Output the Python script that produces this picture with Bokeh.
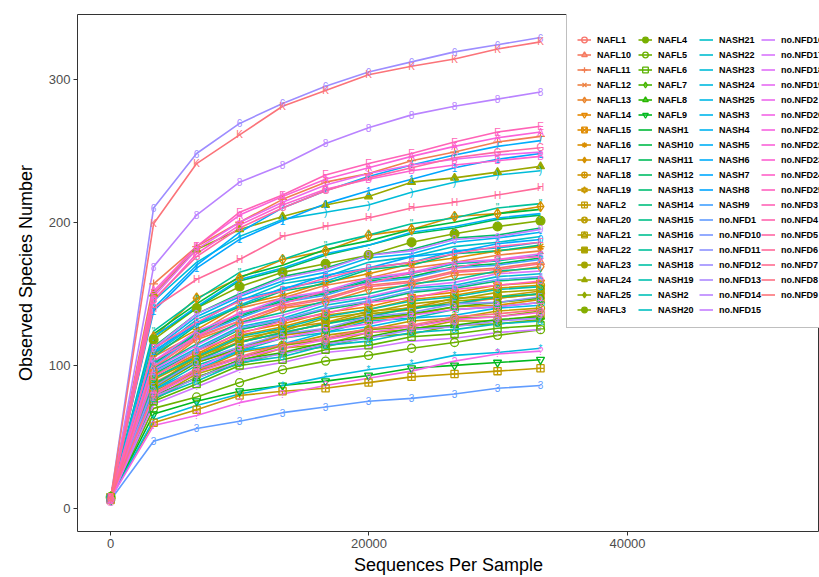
import math
from bokeh.plotting import figure
from bokeh.models import ColumnDataSource, Legend, LegendItem, Range1d, FixedTicker
from bokeh.core.properties import value
from bokeh.embed import file_html
from bokeh.resources import INLINE

# ---------------- data ----------------
depths = [10, 3336, 6662, 9988, 13314, 16640, 19966, 23292, 26618, 29944, 33270]
x_ticks = [0, 20000, 40000]
y_ticks = [0, 100, 200, 300]

nafl = {
    "NAFL1":  [7, 88, 103, 117, 122, 130, 134, 141, 143, 147, 150],
    "NAFL10": [6, 98, 120, 131, 142, 147, 156, 159, 166, 168, 172],
    "NAFL11": [8, 157, 183, 200, 216, 228, 234, 243, 249, 256, 260],
    "NAFL12": [7, 106, 122, 140, 147, 156, 161, 168, 172, 177, 180],
    "NAFL13": [6, 96, 118, 129, 140, 144, 153, 156, 163, 165, 169],
    "NAFL14": [8, 93, 108, 123, 129, 137, 141, 148, 151, 156, 158],
    "NAFL15": [7, 84, 102, 111, 121, 125, 132, 135, 141, 142, 146],
    "NAFL16": [7, 108, 125, 142, 149, 158, 164, 171, 175, 180, 183],
    "NAFL17": [8, 120, 147, 161, 174, 180, 191, 195, 204, 206, 211],
    "NAFL18": [6, 91, 107, 121, 127, 135, 139, 146, 149, 154, 156],
    "NAFL19": [7, 86, 106, 116, 126, 130, 138, 140, 147, 148, 152],
    "NAFL2":  [8, 60, 69, 79, 82, 84, 88, 92, 94, 96, 98],
    "NAFL20": [7, 82, 96, 109, 114, 121, 125, 131, 133, 138, 140],
    "NAFL21": [6, 77, 94, 103, 112, 115, 123, 125, 131, 131, 135],
    "NAFL22": [8, 90, 105, 119, 124, 133, 137, 143, 146, 151, 153],
    "NAFL23": [7, 86, 104, 116, 123, 129, 136, 139, 145, 147, 150],
    "NAFL24": [8, 150, 181, 195, 204, 212, 218, 228, 231, 235, 239],
    "NAFL25": [7, 79, 96, 105, 114, 118, 125, 127, 133, 134, 138],
    "NAFL3":  [8, 118, 140, 155, 165, 171, 177, 186, 192, 197, 201],
    "NAFL4":  [6, 76, 92, 101, 109, 113, 120, 122, 128, 129, 132],
    "NAFL5":  [7, 70, 78, 88, 97, 103, 107, 112, 116, 121, 125],
    "NAFL6":  [7, 75, 87, 100, 104, 111, 114, 120, 122, 126, 128],
    "NAFL7":  [8, 85, 102, 112, 122, 125, 133, 136, 141, 144, 147],
    "NAFL8":  [7, 79, 91, 104, 109, 116, 120, 126, 128, 132, 134],
    "NAFL9":  [7, 66, 75, 82, 86, 89, 93, 98, 100, 102, 104],
}

nash = {
    "NASH1":  [7, 122, 143, 162, 170, 181, 187, 195, 200, 206, 209],
    "NASH10": [8, 101, 122, 134, 145, 150, 159, 162, 169, 171, 175],
    "NASH11": [6, 120, 140, 159, 167, 177, 184, 192, 196, 202, 205],
    "NASH12": [7, 113, 136, 150, 162, 168, 177, 181, 189, 191, 196],
    "NASH13": [8, 94, 110, 125, 131, 139, 144, 151, 154, 159, 161],
    "NASH14": [7, 106, 128, 141, 152, 157, 167, 170, 178, 180, 184],
    "NASH15": [6, 87, 103, 116, 123, 129, 134, 140, 143, 148, 150],
    "NASH16": [7, 98, 115, 130, 137, 145, 150, 157, 160, 166, 168],
    "NASH17": [8, 124, 146, 165, 174, 184, 191, 199, 203, 210, 213],
    "NASH18": [7, 102, 123, 135, 146, 151, 160, 164, 171, 173, 177],
    "NASH19": [6, 91, 106, 120, 126, 134, 139, 145, 148, 153, 155],
    "NASH2":  [7, 83, 100, 110, 119, 123, 131, 133, 139, 141, 144],
    "NASH20": [8, 77, 89, 102, 106, 114, 117, 123, 125, 129, 131],
    "NASH21": [7, 109, 132, 145, 157, 162, 172, 176, 183, 186, 190],
    "NASH22": [6, 96, 112, 127, 133, 142, 147, 154, 156, 162, 164],
    "NASH23": [8, 145, 172, 190, 202, 207, 212, 221, 228, 233, 236],
    "NASH24": [7, 62, 72, 80, 86, 92, 97, 101, 107, 109, 112],
    "NASH25": [7, 108, 129, 142, 154, 159, 168, 172, 180, 182, 186],
    "NASH3":  [6, 83, 97, 110, 115, 123, 127, 133, 135, 140, 142],
    "NASH4":  [8, 111, 134, 148, 159, 165, 175, 178, 186, 189, 193],
    "NASH5":  [7, 120, 141, 160, 168, 178, 184, 193, 197, 203, 206],
    "NASH6":  [8, 140, 170, 193, 210, 222, 232, 240, 247, 253, 257],
    "NASH7":  [7, 110, 129, 146, 153, 163, 168, 176, 179, 185, 188],
    "NASH8":  [8, 138, 168, 188, 201, 213, 222, 230, 238, 244, 248],
    "NASH9":  [6, 100, 121, 133, 144, 149, 158, 161, 168, 170, 174],
}

nfd = {
    "no.NFD1":  [6, 47, 56, 61, 67, 71, 75, 77, 80, 84, 86],
    "no.NFD10": [7, 95, 111, 126, 132, 140, 145, 152, 155, 160, 162],
    "no.NFD11": [8, 85, 103, 113, 122, 126, 134, 137, 143, 144, 148],
    "no.NFD12": [7, 210, 248, 269, 283, 295, 305, 312, 319, 324, 329],
    "no.NFD13": [6, 78, 91, 103, 108, 115, 119, 125, 127, 131, 133],
    "no.NFD14": [7, 169, 205, 228, 240, 255, 266, 275, 281, 286, 291],
    "no.NFD15": [8, 112, 136, 149, 161, 167, 177, 180, 188, 190, 195],
    "no.NFD16": [7, 73, 85, 97, 102, 109, 112, 117, 119, 123, 125],
    "no.NFD17": [6, 97, 114, 129, 135, 144, 148, 155, 158, 164, 166],
    "no.NFD18": [8, 103, 124, 136, 147, 152, 161, 165, 172, 174, 178],
    "no.NFD19": [7, 80, 98, 112, 119, 125, 129, 135, 139, 141, 144],
    "no.NFD2":  [8, 148, 181, 200, 214, 226, 234, 240, 244, 247, 249],
    "no.NFD20": [7, 58, 65, 74, 80, 86, 91, 96, 103, 108, 110],
    "no.NFD21": [6, 79, 95, 105, 112, 118, 123, 127, 132, 134, 137],
    "no.NFD22": [8, 152, 183, 205, 218, 230, 238, 246, 253, 259, 263],
    "no.NFD23": [8, 145, 178, 198, 212, 223, 230, 236, 240, 243, 246],
    "no.NFD24": [7, 103, 120, 137, 143, 152, 157, 165, 168, 174, 176],
    "no.NFD25": [6, 92, 110, 122, 131, 136, 144, 147, 153, 156, 159],
    "no.NFD3":  [8, 150, 183, 207, 219, 233, 241, 248, 256, 263, 267],
    "no.NFD4":  [7, 112, 130, 145, 152, 161, 168, 172, 178, 183, 186],
    "no.NFD5":  [8, 146, 176, 196, 210, 222, 231, 238, 245, 249, 252],
    "no.NFD6":  [7, 140, 160, 174, 190, 197, 203, 210, 214, 219, 224],
    "no.NFD7":  [6, 99, 119, 131, 141, 146, 155, 158, 165, 167, 171],
    "no.NFD8":  [8, 80, 97, 106, 115, 119, 126, 128, 134, 136, 139],
    "no.NFD9":  [7, 199, 241, 261, 281, 292, 303, 309, 314, 321, 326],
}

# ---------------- styling helpers ----------------
def hcl_hex(h, c=100.0, l=65.0):
    Xn, Yn, Zn = 95.047, 100.0, 108.883
    hr = math.radians(h)
    U, V = c * math.cos(hr), c * math.sin(hr)
    Y = Yn * ((l + 16.0) / 116.0) ** 3 if l > 8 else Yn * l / 903.3
    t = Xn + Yn + Zn
    xn, yn = Xn / t, Yn / t
    uN = 2 * xn / (6 * yn - xn + 1.5)
    vN = 4.5 * yn / (6 * yn - xn + 1.5)
    u = U / (13 * l) + uN
    v = V / (13 * l) + vN
    X = 9.0 * Y * u / (4 * v)
    Z = -X / 3 - 5 * Y + 3 * Y / v
    r = (3.240479 * X - 1.537150 * Y - 0.498535 * Z) / Yn
    g = (-0.969256 * X + 1.875992 * Y + 0.041556 * Z) / Yn
    b = (0.055648 * X - 0.204043 * Y + 1.057311 * Z) / Yn

    def gam(q):
        q = 12.92 * q if q <= 0.0031308 else 1.055 * q ** (1 / 2.4) - 0.055
        return int(round(min(1, max(0, q)) * 255))
    return "#%02X%02X%02X" % (gam(r), gam(g), gam(b))

# R pch 1..25 approximations: list of (marker, filled, size factor)
pch = {
    1: [("circle", False, 1.0)], 2: [("triangle", False, 1.0)], 3: [("cross", False, 1.1)],
    4: [("x", False, 1.0)], 5: [("diamond", False, 1.3)], 6: [("inverted_triangle", False, 1.0)],
    7: [("square_x", False, 0.9)], 8: [("asterisk", False, 1.0)], 9: [("diamond_cross", False, 1.3)],
    10: [("circle_cross", False, 1.0)],
    11: [("triangle", False, 1.0), ("inverted_triangle", False, 1.0)],
    12: [("square_cross", False, 0.9)], 13: [("circle_x", False, 1.0)],
    14: [("square", False, 0.9), ("triangle", False, 0.8)],
    15: [("square", True, 0.9)], 16: [("circle", True, 0.8)], 17: [("triangle", True, 1.0)],
    18: [("diamond", True, 1.0)], 19: [("circle", True, 1.1)], 20: [("circle", True, 0.6)],
    21: [("circle", False, 1.0)], 22: [("square", False, 0.9)], 23: [("diamond", False, 1.3)],
    24: [("triangle", False, 1.0)], 25: [("inverted_triangle", False, 1.0)],
}

series = list(nafl.items()) + list(nash.items()) + list(nfd.items())
n = len(series)
step = (360.0 - 360.0 / n) / (n - 1)
colors = [hcl_hex((15 + i * step) % 360) for i in range(n)]

# ---------------- figure ----------------
p = figure(width=819, height=577, output_backend="svg", toolbar_location=None,
           x_range=Range1d(-2553, 54855), y_range=Range1d(-16.0, 345.1),
           min_border_left=77, min_border_right=0, min_border_top=14, min_border_bottom=43)
p.xgrid.visible = False
p.ygrid.visible = False
p.outline_line_color = "#333333"
p.outline_line_width = 1
p.background_fill_color = "white"
p.border_fill_color = "white"

p.xaxis.ticker = FixedTicker(ticks=x_ticks)
p.yaxis.ticker = FixedTicker(ticks=y_ticks)
p.xaxis.axis_label = "Sequences Per Sample"
p.yaxis.axis_label = "Observed Species Number"
for ax in (p.xaxis, p.yaxis):
    ax.axis_line_color = None
    ax.major_tick_line_color = "#333333"
    ax.major_tick_in = 0
    ax.major_tick_out = 4
    ax.minor_tick_line_color = None
    ax.major_label_text_font = "Liberation Sans"
    ax.major_label_text_font_size = "13px"
    ax.major_label_text_color = "#4D4D4D"
    ax.major_label_standoff = 3
    ax.axis_label_text_font = "Liberation Sans"
    ax.axis_label_text_font_size = "18px"
    ax.axis_label_text_font_style = "normal"
    ax.axis_label_text_color = "#000000"
    ax.axis_label_standoff = 4
p.yaxis.axis_label_standoff = 10
p.xaxis.formatter.use_scientific = False

lines = []
for i, (name, vals) in enumerate(series):
    src = ColumnDataSource(dict(x=depths, y=vals))
    lr = p.line("x", "y", source=src, line_color=colors[i], line_width=1.6)
    lines.append((src, lr))

items = []
base = 8
for i, (name, vals) in enumerate(series):
    src, lr = lines[i]
    col = colors[i]
    idx = i + 1
    rends = [lr]
    if idx in pch:
        for mk, filled, f in pch[idx]:
            r = p.scatter("x", "y", source=src, marker=mk, size=base * f,
                          line_color=col, line_width=1.3,
                          fill_color=col if filled else None)
            rends.append(r)
    elif idx >= 33:
        ch = chr(idx)
        tsrc = ColumnDataSource(dict(x=depths, y=vals, t=[ch] * len(depths)))
        p.text("x", "y", text="t", source=tsrc, text_color=col,
               text_font=value("Liberation Sans"), text_font_size="10px",
               text_align="center", text_baseline="middle")
    items.append(LegendItem(label=name, renderers=rends))

legend = Legend(items=items, location=(489, 203), orientation="vertical", nrows=19,
                label_text_font="Liberation Sans", label_text_font_size="9px",
                label_text_font_style="bold", label_text_color="#000000",
                glyph_width=14, glyph_height=15, label_height=15, label_standoff=6,
                label_width=41,
                spacing=0, padding=10, margin=0,
                title=" ", title_text_font_size="9px", title_standoff=2,
                border_line_color="#7F7F7F", border_line_width=1,
                background_fill_color="white", background_fill_alpha=1.0)
p.add_layout(legend)

open("out.html", "w").write(file_html(p, INLINE))
